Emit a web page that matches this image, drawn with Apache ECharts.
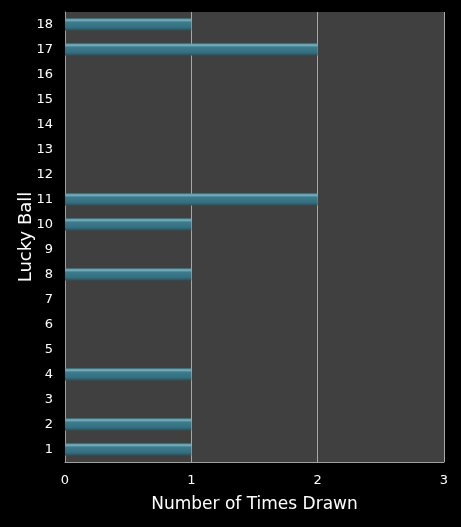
<!DOCTYPE html>
<html>
<head>
<meta charset="utf-8">
<script src="https://cdn.jsdelivr.net/npm/echarts@6/dist/echarts.min.js"></script>
<style>
  html, body { margin: 0; padding: 0; background: #000; }
  #chart { width: 461px; height: 527px; }
</style>
</head>
<body>
<div id="chart"></div>
<script>
// lucky ball numbers, bottom to top
var balls = ['1','2','3','4','5','6','7','8','9','10','11','12','13','14','15','16','17','18'];
var timesDrawn = [1, 1, 0, 1, 0, 0, 0, 1, 0, 1, 2, 0, 0, 0, 0, 0, 2, 1];
var xTicks = [0, 3, 1];  // min, max, interval

var chart = echarts.init(document.getElementById('chart'));

var labelFont = 'DejaVu Sans';

chart.setOption({
  backgroundColor: '#000000',
  animation: false,
  grid: {
    left: 65, right: 17, top: 12, bottom: 65,
    show: true,
    backgroundColor: '#404040',
    borderWidth: 0
  },
  xAxis: {
    type: 'value',
    min: xTicks[0], max: xTicks[1], interval: xTicks[2],
    name: 'Number of Times Drawn',
    nameLocation: 'middle',
    nameGap: 34,
    nameMoveOverlap: false,
    nameTextStyle: { color: '#ffffff', fontSize: 17, fontFamily: labelFont },
    axisLine: { show: true, lineStyle: { color: '#a0a0a0', width: 1 } },
    axisTick: { show: false },
    axisLabel: { color: '#ffffff', fontSize: 13, fontFamily: labelFont, margin: 12 },
    splitLine: { show: true, lineStyle: { color: '#a8a8a8', width: 1 } }
  },
  yAxis: {
    type: 'category',
    data: balls,
    name: 'Lucky Ball',
    nameLocation: 'middle',
    nameGap: 30,
    nameMoveOverlap: false,
    nameRotate: 90,
    nameTextStyle: { color: '#ffffff', fontSize: 18, fontFamily: labelFont },
    axisLine: { show: true, lineStyle: { color: '#a0a0a0', width: 1 } },
    axisTick: { show: false },
    axisLabel: { color: '#ffffff', fontSize: 13, fontFamily: labelFont, margin: 12 },
    splitLine: { show: false }
  },
  series: [{
    type: 'bar',
    data: timesDrawn,
    barWidth: 12,
    itemStyle: {
      color: new echarts.graphic.LinearGradient(0, 0, 0, 1, [
        { offset: 0, color: '#5a95a4' },
        { offset: 0.15, color: '#78adba' },
        { offset: 0.3, color: '#3d7c8d' },
        { offset: 0.75, color: '#336f80' },
        { offset: 1, color: '#24535f' }
      ]),
      borderWidth: 0
    }
  }]
});
</script>
</body>
</html>
